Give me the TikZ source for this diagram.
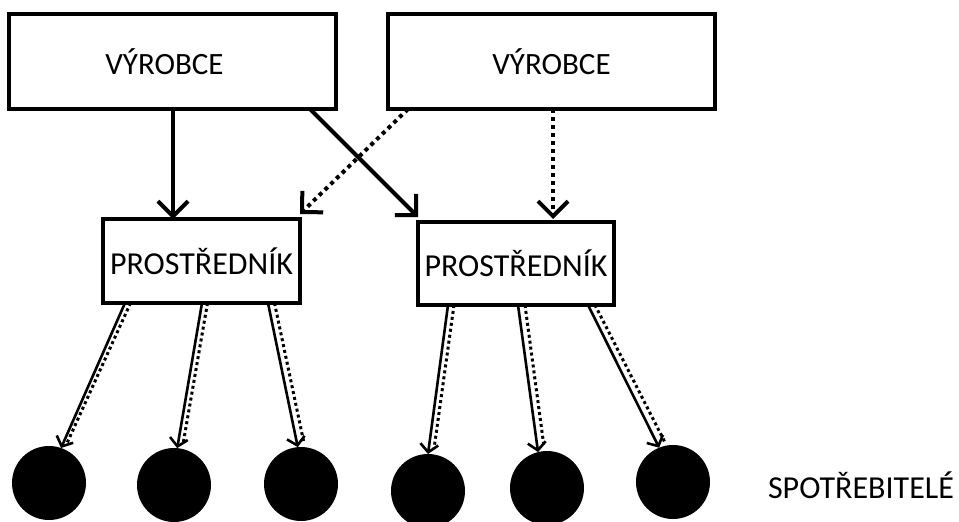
\documentclass[tikz,border=0pt]{standalone}
\usepackage{fontspec}
\setmainfont{Carlito}
\usetikzlibrary{arrows.meta}
\begin{document}
\begin{tikzpicture}[x=1pt,y=-1pt,
  box/.style={draw, line width=3.5pt, inner sep=0pt, outer sep=0pt, fill=white},
  bigtext/.style={font=\fontsize{31}{31}\selectfont},
  midtext/.style={font=\fontsize{32}{32}\selectfont},
  thicksolid/.style={line width=4pt, -{Straight Barb[length=15pt,width=30pt,sharp]}},
  thickdot/.style={line width=4pt, dash pattern=on 4pt off 4pt, -{Straight Barb[length=15pt,width=30pt,sharp]}},
  thinarrow/.style={line width=2.6pt, -{Straight Barb[length=8pt,width=18pt,sharp]}},
  thindot/.style={line width=3pt, dash pattern=on 3pt off 3pt},
  consumer/.style={circle, fill=black, minimum size=74pt, inner sep=0pt, outer sep=0pt}
]
\useasboundingbox (0,0) rectangle (959,522);

\node[box, minimum width=327pt, minimum height=95pt, bigtext] (v1) at (172.5,61.5) {VÝROBCE\rule{16pt}{0pt}};
\node[box, minimum width=327pt, minimum height=95pt, bigtext] (v2) at (551.5,61.5) {VÝROBCE};
\node[box, minimum width=197pt, minimum height=84pt, midtext] (p1) at (201.5,261) {PROSTŘEDNÍK};
\node[box, minimum width=196pt, minimum height=83pt, midtext] (p2) at (516,263.5) {PROSTŘEDNÍK};

\node[consumer] (c1) at (49,483) {};
\node[consumer] (c2) at (174,485) {};
\node[consumer] (c3) at (301,484) {};
\node[consumer] (c4) at (428,491) {};
\node[consumer] (c5) at (547,488) {};
\node[consumer] (c6) at (673,482) {};
\node[midtext] (lbl) at (861,485) {SPOTŘEBITELÉ};

\draw[thicksolid] ([xshift=0.5pt]v1.south) -- ([xshift=-28.5pt]p1.north);
\draw[thicksolid] ([xshift=137.5pt]v1.south) -- ([yshift=5pt]p2.north west);
\draw[thickdot] ([xshift=20pt]v2.south west) -- ([yshift=5pt]p1.north east);
\draw[thickdot] ([xshift=1.5pt]v2.south) -- ([xshift=37pt,yshift=3pt]p2.north);

\draw[thinarrow] ([xshift=-76.5pt]p1.south) -- (c1.71);
\draw[thindot] ([xshift=-71pt]p1.south) -- ([xshift=6pt,yshift=5pt]c1.71);
\draw[thinarrow] ([xshift=0.5pt]p1.south) -- (c2.85);
\draw[thindot] ([xshift=6pt]p1.south) -- ([xshift=6pt,yshift=5pt]c2.85);
\draw[thinarrow] ([xshift=66.5pt]p1.south) -- (c3.95);
\draw[thindot] ([xshift=73pt]p1.south) -- ([xshift=6pt,yshift=5pt]c3.95);
\draw[thinarrow] ([xshift=-68pt]p2.south) -- (c4.90);
\draw[thindot] ([xshift=-62pt]p2.south) -- ([xshift=6pt,yshift=5pt]c4.90);
\draw[thinarrow] ([xshift=2pt]p2.south) -- (c5.104);
\draw[thindot] ([xshift=9pt]p2.south) -- ([xshift=6pt,yshift=5pt]c5.104);
\draw[thinarrow] ([xshift=72pt]p2.south) -- (c6.112);
\draw[thindot] ([xshift=79pt]p2.south) -- ([xshift=6pt,yshift=5pt]c6.112);
\end{tikzpicture}
\end{document}
